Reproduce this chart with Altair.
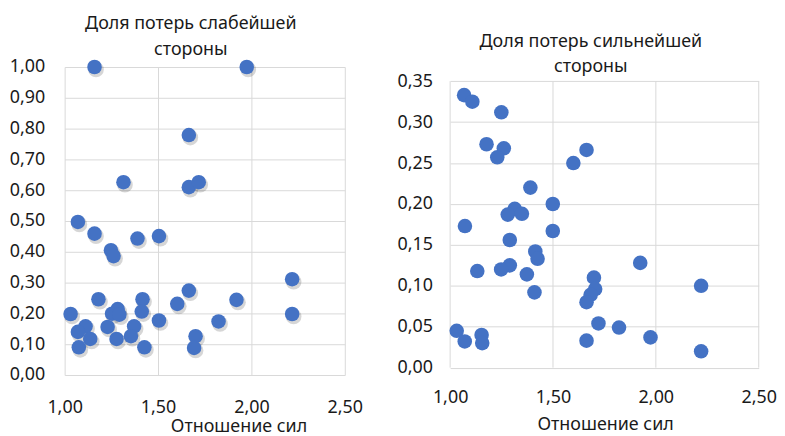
import altair as alt
import pandas as pd

# ---- data ----
weak_x = [1.16, 1.975, 1.665, 1.315, 1.665, 1.718, 1.071, 1.16, 1.39, 1.505, 1.248, 1.262,
          2.218, 2.218, 1.181, 1.417, 1.665, 1.603, 1.92, 1.032, 1.284, 1.254, 1.293, 1.413,
          1.505, 1.824, 1.112, 1.071, 1.23, 1.372, 1.137, 1.278, 1.355, 1.701, 1.076, 1.427, 1.693]
weak_y = [1.00, 1.00, 0.779, 0.626, 0.61, 0.626, 0.497, 0.459, 0.443, 0.451, 0.405, 0.386,
          0.311, 0.198, 0.246, 0.246, 0.274, 0.231, 0.244, 0.198, 0.214, 0.199, 0.196, 0.206,
          0.177, 0.174, 0.158, 0.14, 0.156, 0.158, 0.117, 0.117, 0.126, 0.126, 0.09, 0.09, 0.088]

strong_x = [1.068, 1.108, 1.249, 1.177, 1.261, 1.229, 1.663, 1.599, 1.39, 1.499, 1.314, 1.28,
            1.349, 1.072, 1.499, 1.29, 1.414, 1.425, 1.29, 1.248, 1.132, 1.373, 1.41, 1.924,
            1.699, 1.705, 1.683, 1.663, 2.22, 1.721, 1.821, 1.974, 1.663, 2.22, 1.032, 1.071,
            1.153, 1.156]
strong_y = [0.333, 0.325, 0.312, 0.273, 0.268, 0.257, 0.266, 0.25, 0.22, 0.2, 0.194, 0.187,
            0.188, 0.173, 0.167, 0.156, 0.142, 0.133, 0.125, 0.12, 0.118, 0.114, 0.092, 0.128,
            0.11, 0.096, 0.089, 0.08, 0.1, 0.054, 0.049, 0.037, 0.033, 0.02, 0.045, 0.032,
            0.04, 0.03]

x_ticks = [1.0, 1.5, 2.0, 2.5]
weak_ticks = [0.0, 0.1, 0.2, 0.3, 0.4, 0.5, 0.6, 0.7, 0.8, 0.9, 1.0]
strong_ticks = [0.0, 0.05, 0.10, 0.15, 0.20, 0.25, 0.30, 0.35]

title_weak = ["Доля потерь слабейшей", "стороны"]
title_strong = ["Доля потерь сильнейшей", "стороны"]
x_title = "Отношение сил"

FONT = "Noto Sans"
TXT = "#1a1a1a"
GRID = "#d9d9d9"
BLUE = "#4472C4"
FS = 18
LBL = "replace(format(datum.value, '.2f'), '.', ',')"


def panel(xs, ys, yticks, ymax, w, h, yrange, titles, title_cx, title_ys,
          ylab_pad, xlab_y, xtitle_x, xtitle_y, anchor, shadow, own_vgrid):
    df = pd.DataFrame({"x": xs, "y": ys})
    xscale = alt.Scale(domain=[1.0, 2.5], nice=False, zero=False)
    xenc = alt.X("x:Q", scale=xscale,
                 axis=alt.Axis(values=x_ticks, labelExpr=LBL, grid=not own_vgrid,
                               gridColor=GRID,
                               domain=False, ticks=False, tickSize=0, labelPadding=xlab_y,
                               labelBaseline="alphabetic", labelFontSize=FS, labelColor=TXT,
                               labelFont=FONT, title=x_title, titleFont=FONT,
                               titleFontSize=FS, titleFontWeight="normal", titleColor=TXT,
                               titleX=xtitle_x, titleY=xtitle_y, titleBaseline="alphabetic",
                               titleAnchor="middle", labelFlush=False))
    yenc = alt.Y("y:Q", scale=alt.Scale(domain=[0, ymax], nice=False, range=yrange),
                 axis=alt.Axis(values=yticks, labelExpr=LBL, grid=True, gridColor=GRID,
                               domain=False, ticks=False, tickSize=0, labelPadding=ylab_pad,
                               labelFontSize=FS, labelColor=TXT, labelFont=FONT,
                               title=None, labelFlush=False))
    layers = []
    # invisible anchor that fixes the panel's outer bounds
    layers.append(alt.Chart(pd.DataFrame({"a": [0]})).mark_rule(opacity=0).encode(
        x=alt.value(anchor[0]), x2=alt.value(anchor[1]), y=alt.value(anchor[2])))
    if own_vgrid:
        layers.append(alt.Chart(pd.DataFrame({"x": x_ticks})).mark_rule(
            color=GRID, strokeWidth=1).encode(
            x=xenc, y=alt.value(yrange[1]), y2=alt.value(yrange[0])))
    if shadow:
        layers.append(alt.Chart(df).mark_circle(color="#000000", opacity=0.16, size=250,
                                                xOffset=1.5, yOffset=2.5).encode(x=xenc, y=yenc))
    layers.append(alt.Chart(df).mark_circle(color=BLUE, opacity=1, size=215).encode(x=xenc, y=yenc))
    for line, ty in zip(titles, title_ys):
        layers.append(alt.Chart(pd.DataFrame({"t": [line]})).mark_text(
            font=FONT, fontSize=FS, color=TXT, align="center", baseline="alphabetic").encode(
            text="t:N", x=alt.value(title_cx), y=alt.value(ty)))
    return alt.layer(*layers).properties(width=w, height=h)


left = panel(weak_x, weak_y, weak_ticks, 1.0, 282, 310, [310, 0], title_weak, 127,
             [-38.4, -12.4], 20, 37.6, 175, 57.0, (-57, 320, -57.7), True, False)
right = panel(strong_x, strong_y, strong_ticks, 0.35, 310.6, 302.6, [302.6, 14.3],
              title_strong, 141.6, [-20.0, 5.3], 17.7, 35, 156, 62.0, (-67.7, 0, -57.7),
              False, True)

chart = alt.hconcat(left, right, spacing=0).configure(
    padding=0, font=FONT).configure_view(stroke=None)

chart.save("out.html", embed_options={"renderer": "svg", "actions": False})
